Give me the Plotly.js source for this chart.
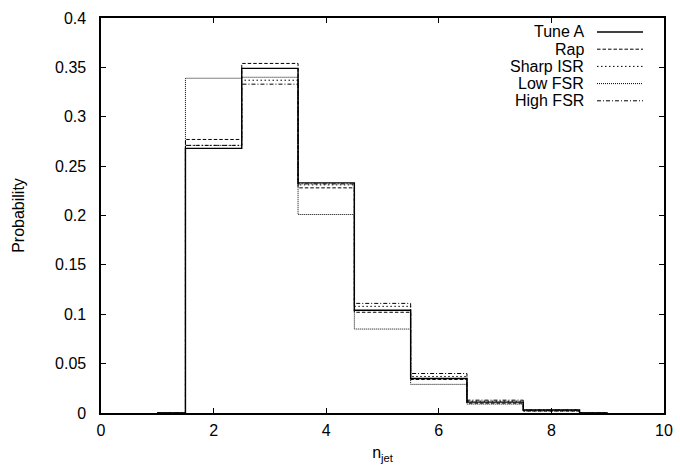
<!DOCTYPE html>
<html>
<head>
<meta charset="utf-8">
<script src="https://cdn.plot.ly/plotly-3.0.1.min.js"></script>
<style>
  html, body { margin: 0; padding: 0; background: #fff; }
  #chart { width: 680px; height: 466px; }
</style>
</head>
<body>
<div id="chart"></div>
<script>
// Jet multiplicity: bin centres (empty end bins close the step outline to zero)
const nJet = [1, 2, 3, 4, 5, 6, 7, 8, 9];

// Probability per multiplicity bin for each generator tune
const tuneA    = [0, 0.268, 0.349, 0.233, 0.104, 0.035, 0.011, 0.003, 0];
const rap      = [0, 0.277, 0.354, 0.228, 0.102, 0.034, 0.010, 0.002, 0];
const sharpISR = [0, 0.271, 0.337, 0.231, 0.108, 0.037, 0.012, 0.003, 0];
const lowFSR   = [0, 0.339, 0.340, 0.201, 0.085, 0.029, 0.009, 0.002, 0];
const highFSR  = [0, 0.271, 0.333, 0.232, 0.111, 0.040, 0.013, 0.003, 0];

const seriesNames = ['Tune A', 'Rap', 'Sharp ISR', 'Low FSR', 'High FSR'];
const seriesData  = [tuneA, rap, sharpISR, lowFSR, highFSR];
const dashes = ['solid', '3.5px,2px', '1.5px,2.5px', '1px,1px', '4px,2px,1px,2px'];
const widths = [1.4, 1, 1, 1, 1];

const font = "'Liberation Sans', Arial, Helvetica, sans-serif";

// plot frame in pixels
const M = { l: 101, r: 16, t: 18, b: 53 };
const W = 680, H = 466;
const plotW = W - M.l - M.r, plotH = H - M.t - M.b;
const px2x = p => (p - M.l) / plotW;
const px2y = p => 1 - (p - M.t) / plotH;

const traces = seriesData.map((ys, i) => ({
  type: 'scatter',
  mode: 'lines',
  x: nJet,
  y: ys,
  name: seriesNames[i],
  line: { shape: 'hvh', color: '#000', width: widths[i], dash: dashes[i] },
  showlegend: false,
  hoverinfo: 'skip'
}));

// gnuplot-style key: labels right-aligned, line samples to their right
const annotations = [];
const shapes = [];
seriesNames.forEach((name, i) => {
  const yRow = px2y(32 + i * 17.2);
  annotations.push({
    xref: 'paper', yref: 'paper',
    x: px2x(586), y: yRow,
    xanchor: 'right', yanchor: 'middle',
    text: name, showarrow: false,
    font: { family: font, size: 16, color: '#000' }
  });
  shapes.push({
    type: 'line', xref: 'paper', yref: 'paper',
    x0: px2x(597), x1: px2x(643),
    y0: yRow, y1: yRow,
    line: { color: '#000', width: widths[i], dash: dashes[i] }
  });
});

const axisCommon = {
  showgrid: false,
  zeroline: false,
  showline: true,
  linecolor: '#000',
  linewidth: 1.6,
  mirror: 'ticks',
  ticks: 'inside',
  ticklen: 5,
  tickwidth: 1.2,
  tickcolor: '#000',
  tickfont: { family: font, size: 16, color: '#000' }
};

const layout = {
  width: W,
  height: H,
  margin: M,
  paper_bgcolor: '#fff',
  plot_bgcolor: '#fff',
  showlegend: false,
  xaxis: Object.assign({}, axisCommon, {
    range: [0, 10],
    tickmode: 'linear', tick0: 0, dtick: 2,
    ticklabelstandoff: 2,
    title: { text: 'n<sub>jet</sub>', font: { family: font, size: 16, color: '#000' }, standoff: 9 }
  }),
  yaxis: Object.assign({}, axisCommon, {
    range: [0, 0.4],
    tickmode: 'linear', tick0: 0, dtick: 0.05,
    ticklabelstandoff: 10,
    title: { text: 'Probability', font: { family: font, size: 16, color: '#000' }, standoff: 26 }
  }),
  annotations: annotations,
  shapes: shapes
};

Plotly.newPlot('chart', traces, layout, { displayModeBar: false, staticPlot: true });
</script>
</body>
</html>
